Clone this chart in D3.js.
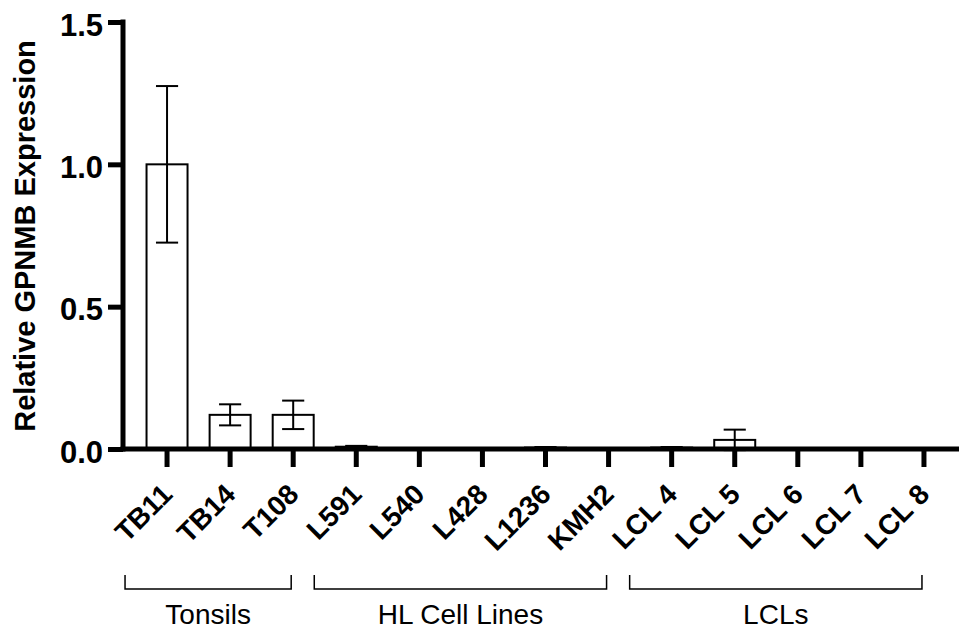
<!DOCTYPE html>
<html>
<head>
<meta charset="utf-8">
<script src="https://cdn.jsdelivr.net/npm/d3@7"></script>
<style>
  html, body { margin: 0; padding: 0; background: #fff; }
  svg { display: block; font-family: Arial, "Liberation Sans", sans-serif; }
</style>
</head>
<body>
<svg id="chart" width="959" height="633"></svg>
<script>
// Relative GPNMB expression per sample (mean and error)
const categories = ["TB11", "TB14", "T108", "L591", "L540", "L428", "L1236", "KMH2",
                    "LCL 4", "LCL 5", "LCL 6", "LCL 7", "LCL 8"];
const means  = [1.0, 0.12, 0.12, 0.008, 0, 0, 0.005, 0, 0.005, 0.032, 0, 0, 0];
const errors = [0.275, 0.037, 0.05, 0.003, 0, 0, 0.002, 0, 0.002, 0.036, 0, 0, 0];
const yTicks = [0, 0.5, 1.0, 1.5];
const groups = [
  { label: "Tonsils", from: "TB11", to: "T108" },
  { label: "HL Cell Lines", from: "L591", to: "KMH2" },
  { label: "LCLs", from: "LCL 4", to: "LCL 8" }
];
const yTitle = "Relative GPNMB Expression";

const FONT = "Arial, 'Liberation Sans', sans-serif";
const svg = d3.select("#chart");
const axisX = 123, baseY = 449, topY = 22;

const x = d3.scaleBand()
  .domain(categories)
  .range([135.5, 955.5])
  .paddingInner(0.35)
  .paddingOuter(0.175);
const y = d3.scaleLinear().domain([0, 1.5]).range([baseY, topY]);
const tickX = c => x(c) + x.bandwidth() / 2;

const data = categories.map((c, i) => ({ c, m: means[i], e: errors[i] }));

// Bars
svg.append("g").selectAll("rect")
  .data(data.filter(d => d.m > 0))
  .join("rect")
  .attr("x", d => x(d.c))
  .attr("y", d => y(d.m))
  .attr("width", x.bandwidth())
  .attr("height", d => y(0) - y(d.m))
  .attr("fill", "#fff")
  .attr("stroke", "#000")
  .attr("stroke-width", 2);

// Error bars
const eb = svg.append("g").attr("stroke", "#000").attr("stroke-width", 2);
data.filter(d => d.e > 0).forEach(d => {
  const cx = tickX(d.c);
  const cap = x.bandwidth() * 0.27;
  eb.append("line").attr("x1", cx).attr("x2", cx).attr("y1", y(d.m + d.e)).attr("y2", y(d.m - d.e));
  eb.append("line").attr("x1", cx - cap).attr("x2", cx + cap).attr("y1", y(d.m + d.e)).attr("y2", y(d.m + d.e));
  eb.append("line").attr("x1", cx - cap).attr("x2", cx + cap).attr("y1", y(d.m - d.e)).attr("y2", y(d.m - d.e));
});

// Y axis
const yAxis = svg.append("g")
  .attr("transform", `translate(${axisX},0)`)
  .call(d3.axisLeft(y).tickValues(yTicks).tickFormat(d3.format(".1f")).tickSize(15).tickPadding(5));
yAxis.select(".domain").attr("stroke-width", 5).attr("d", `M0,${topY - 2.5}V${baseY + 2.5}`);
yAxis.selectAll(".tick line").attr("stroke-width", 5);
yAxis.selectAll(".tick text")
  .attr("font-size", 31).attr("font-weight", "bold").attr("fill", "#000")
  .attr("font-family", FONT)
  .attr("dy", "0.42em");

// X axis
const xAxis = svg.append("g")
  .attr("transform", `translate(0,${baseY})`)
  .call(d3.axisBottom(x).tickSize(18));
xAxis.select(".domain").attr("stroke-width", 5).attr("d", `M${axisX - 2.5},0H959`);
xAxis.selectAll(".tick line").attr("stroke-width", 5);
xAxis.selectAll(".tick text")
  .attr("font-size", 28).attr("font-weight", "bold").attr("fill", "#000")
  .attr("font-family", FONT)
  .attr("text-anchor", "end")
  .attr("x", 0).attr("y", 0).attr("dy", 0)
  .attr("transform", "translate(7,47) rotate(-45)");

// Y axis title
svg.append("text")
  .attr("transform", `translate(35,236) rotate(-90)`)
  .attr("text-anchor", "middle")
  .attr("font-size", 29).attr("font-weight", "bold")
  .attr("font-family", FONT)
  .text(yTitle);

// Group brackets under the category labels
const bracketY = 589, bracketTop = 575;
groups.forEach(g => {
  const x0 = tickX(g.from) - 42;
  const x1 = tickX(g.to) - 2;
  svg.append("path")
    .attr("d", `M${x0},${bracketTop}V${bracketY}H${x1}V${bracketTop}`)
    .attr("fill", "none").attr("stroke", "#000").attr("stroke-width", 1.5);
  svg.append("text")
    .attr("x", (x0 + x1) / 2).attr("y", 624)
    .attr("text-anchor", "middle")
    .attr("font-size", 28)
    .attr("font-family", FONT)
    .text(g.label);
});
</script>
</body>
</html>
